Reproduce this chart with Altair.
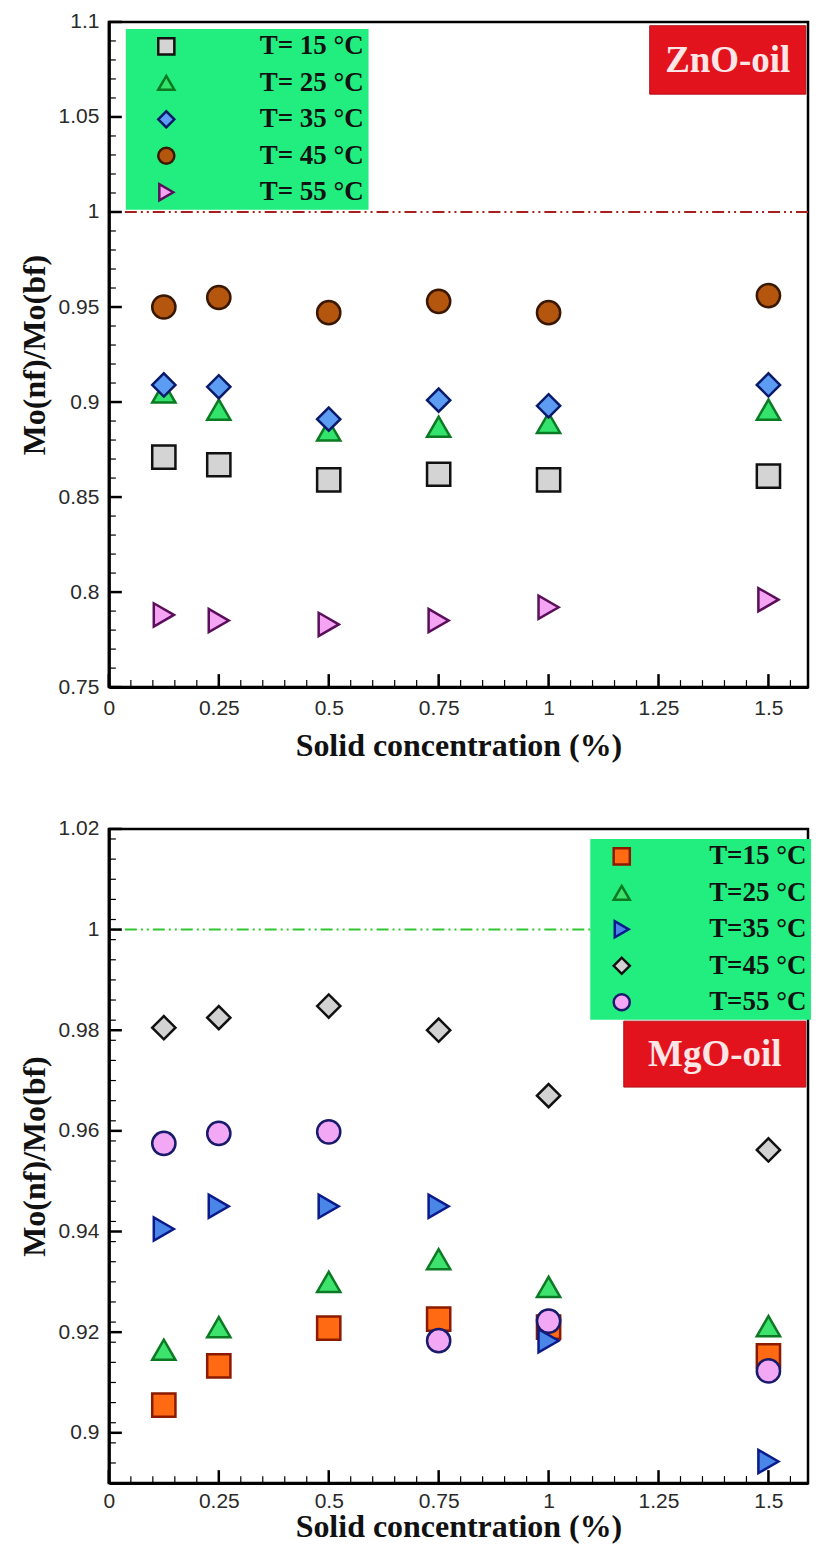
import altair as alt
import pandas as pd

# ---------------- data ----------------
conc = [0.125, 0.25, 0.5, 0.75, 1.0, 1.5]

zno_series = ["T= 15 °C", "T= 25 °C", "T= 35 °C", "T= 45 °C", "T= 55 °C"]
zno_t15 = [0.871, 0.867, 0.859, 0.862, 0.859, 0.861]
zno_t25 = [0.905, 0.896, 0.885, 0.887, 0.889, 0.896]
zno_t35 = [0.909, 0.908, 0.891, 0.901, 0.898, 0.909]
zno_t45 = [0.950, 0.955, 0.947, 0.953, 0.947, 0.956]
zno_t55 = [0.788, 0.785, 0.783, 0.785, 0.792, 0.796]

mgo_series = ["T=15 °C", "T=25 °C", "T=35 °C", "T=45 °C", "T=55 °C"]
mgo_t15 = [0.9055, 0.9133, 0.9208, 0.9226, 0.9210, 0.9153]
mgo_t25 = [0.9165, 0.9210, 0.9300, 0.9345, 0.9290, 0.9212]
mgo_t35 = [0.9405, 0.9450, 0.9450, 0.9450, 0.9183, 0.8943]
mgo_t45 = [0.9805, 0.9825, 0.9848, 0.9800, 0.9670, 0.9562]
mgo_t55 = [0.9575, 0.9595, 0.9598, 0.9183, 0.9222, 0.9123]

zno_y_ticks = [0.75, 0.8, 0.85, 0.9, 0.95, 1.0, 1.05, 1.1]
mgo_y_ticks = [0.9, 0.92, 0.94, 0.96, 0.98, 1.0, 1.02]
x_ticks = [0, 0.25, 0.5, 0.75, 1.0, 1.25, 1.5]

zno_shapes = ["square", "triangle-up", "diamond", "circle", "triangle-right"]
zno_fill = ["#D4D4D4", "#33E36C", "#5C9CF2", "#B5560F", "#F5A3F3"]
zno_stroke = ["#111111", "#0B7A22", "#0A1A6B", "#3A1800", "#5A0F5A"]

mgo_shapes = ["square", "triangle-up", "triangle-right", "diamond", "circle"]
mgo_fill = ["#FF6A12", "#3EE36E", "#4A86E8", "#D2D2D2", "#F3A8F6"]
mgo_stroke = ["#8B1A00", "#0B7A22", "#0A1A8B", "#111111", "#1A1A6B"]

SERIF = "Liberation Serif"
SANS = "Liberation Sans"
W = 700
XMAX = 1.59
LABEL_EXPR = "format(datum.value, '~g')"


def minor_ticks(lo, hi, step):
    n = int(round((hi - lo) / step))
    return [round(lo + i * step, 4) for i in range(n + 1)]


def panel(series, cols, shapes, fills, strokes, ydom, yticks, yminor,
          ref_color, box, label, leg, height, lab_pad, title_pad):
    rows = []
    for k, (name, vals) in enumerate(zip(series, cols)):
        for c, v in zip(conc, vals):
            rows.append({"conc": c, "value": v, "series": name, "idx": k})
    df = pd.DataFrame(rows)

    xs = alt.Scale(domain=[0, XMAX], nice=False, zero=False)
    ys = alt.Scale(domain=ydom, nice=False, zero=False)

    legend = alt.Legend(
        title=None, orient="none", legendX=leg[0], legendY=leg[1],
        fillColor="#22EE80", padding=4, rowPadding=8.5, symbolOffset=leg[2],
        labelOffset=leg[3], labelFont=SERIF, labelFontWeight="bold", labelFontSize=27,
        labelColor="#111111", symbolSize=260, symbolStrokeWidth=2.5, labelLimit=300,
    )

    pts = alt.Chart(df).mark_point(filled=True, opacity=1, strokeWidth=2.5, size=540).encode(
        x=alt.X("conc:Q", scale=xs, axis=alt.Axis(
            values=x_ticks, labelExpr=LABEL_EXPR, title="Solid concentration (%)",
            labelPadding=lab_pad, titlePadding=title_pad)),
        y=alt.Y("value:Q", scale=ys, axis=alt.Axis(
            values=yticks, labelExpr=LABEL_EXPR, title="Mo(nf)/Mo(bf)")),
        shape=alt.Shape("series:N", scale=alt.Scale(domain=series, range=shapes), legend=legend),
        fill=alt.Fill("series:N", scale=alt.Scale(domain=series, range=fills), legend=legend),
        stroke=alt.Stroke("series:N", scale=alt.Scale(domain=series, range=strokes), legend=legend),
        order=alt.Order("idx:Q"),
    )

    ref = alt.Chart(pd.DataFrame({"y": [1.0]})).mark_rule(
        color=ref_color, strokeWidth=2, strokeDash=[12, 4, 2, 4, 2, 4]
    ).encode(y=alt.Y("y:Q", scale=ys))

    # inward ticks
    ymaj = alt.Chart(pd.DataFrame({"t": yticks})).mark_rule(color="black", strokeWidth=2.5).encode(
        y=alt.Y("t:Q", scale=ys), x=alt.value(0), x2=alt.value(13))
    ymin = alt.Chart(pd.DataFrame({"t": yminor})).mark_rule(color="black", strokeWidth=1.2).encode(
        y=alt.Y("t:Q", scale=ys), x=alt.value(0), x2=alt.value(7))
    xminor = minor_ticks(0, 1.55, 0.05)
    xmaj = alt.Chart(pd.DataFrame({"t": x_ticks})).mark_rule(color="black", strokeWidth=2.5).encode(
        x=alt.X("t:Q", scale=xs), y=alt.value(height), y2=alt.value(height - 13))
    xmin = alt.Chart(pd.DataFrame({"t": xminor})).mark_rule(color="black", strokeWidth=1.2).encode(
        x=alt.X("t:Q", scale=xs), y=alt.value(height), y2=alt.value(height - 7))

    bdf = pd.DataFrame([{"x": box[0], "x2": box[1], "y": box[2], "y2": box[3],
                         "tx": (box[0] + box[1]) / 2, "ty": (box[2] + box[3]) / 2, "label": label}])
    rect = alt.Chart(bdf).mark_rect(color="#E3131E", stroke="#B01018", strokeWidth=1).encode(
        x=alt.X("x:Q", scale=xs), x2="x2", y=alt.Y("y:Q", scale=ys), y2="y2")
    txt = alt.Chart(bdf).mark_text(font=SERIF, fontWeight="bold", fontSize=37,
                                   color="#FFE6E6", baseline="middle", align="center", dy=1).encode(
        x=alt.X("tx:Q", scale=xs), y=alt.Y("ty:Q", scale=ys), text="label:N")

    return alt.layer(ref, ymin, ymaj, xmin, xmaj, pts, rect, txt).properties(
        width=W, height=height)


top = panel(zno_series, [zno_t15, zno_t25, zno_t35, zno_t45, zno_t55],
            zno_shapes, zno_fill, zno_stroke,
            [0.75, 1.1], zno_y_ticks, minor_ticks(0.75, 1.1, 0.01),
            "#A8201E", (1.23, 1.585, 1.098, 1.062), "ZnO-oil", (17, 7, 23, 80), 666, 10, 12)

bottom = panel(mgo_series, [mgo_t15, mgo_t25, mgo_t35, mgo_t45, mgo_t55],
               mgo_shapes, mgo_fill, mgo_stroke,
               [0.89, 1.02], mgo_y_ticks, minor_ticks(0.89, 1.02, 0.004),
               "#33C633", (1.171, 1.585, 0.9818, 0.9687), "MgO-oil", (482, 10, 14, 74), 655, 7, 0)

chart = alt.vconcat(top, bottom, spacing=53).resolve_scale(
    shape="independent", fill="independent", stroke="independent"
).configure(
    padding={"top": 0, "left": 8, "right": 0, "bottom": 0},
    background="white",
).configure_view(stroke="black", strokeWidth=2.5).configure_axis(
    grid=False, ticks=False, domainColor="black", domainWidth=3,
    labelFont=SANS, labelFontSize=21, labelColor="#2a2a2a",
    labelFlush=False, labelOverlap=False,
    titleFont=SERIF, titleFontWeight="bold", titleFontSize=32, titleColor="#111111",
).configure_axisY(titlePadding=7, labelPadding=10)

chart.save("out.html", embed_options={"renderer": "svg", "actions": False})
